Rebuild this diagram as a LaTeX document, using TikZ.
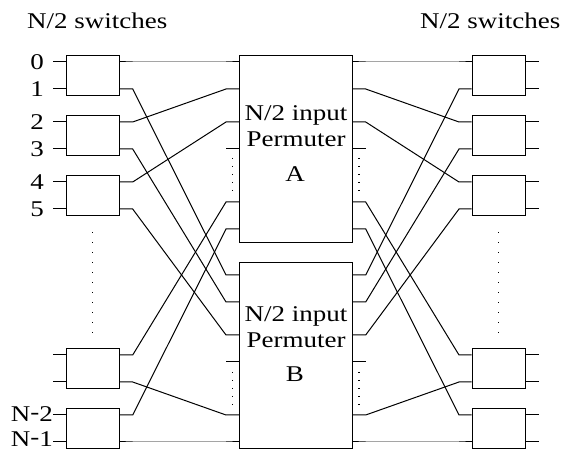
\documentclass[tikz,border=0pt]{standalone}
\usepackage{fontspec}
\usepackage{graphicx}
\setmainfont{Liberation Serif}
\newcommand{\stretchtxt}[1]{\scalebox{1.2}[1]{#1}}
\newcommand{\dashlbl}[1]{N\raisebox{0.12em}{-}#1}
\begin{document}
\begin{tikzpicture}[x=1pt,y=-1pt,
  sw/.style={draw, line width=1.1pt, rectangle, minimum width=53.3pt, minimum height=40pt, inner sep=0pt, anchor=north west},
  perm/.style={draw, line width=1.1pt, rectangle, minimum width=113pt, inner sep=0pt, anchor=north west},
  lbl/.style={font=\fontsize{22.5}{26}\selectfont, inner sep=0pt},
  wire/.style={line width=1pt},
  dotsL/.style={dash pattern=on 1.3pt off 8.7pt, line width=1.2pt},
  dotsP/.style={dash pattern=on 1.3pt off 6.7pt, line width=1.2pt}]
\useasboundingbox (0,0) rectangle (566,449);

% top labels
\node[lbl, anchor=base west] (tl) at (27,28.3) {\stretchtxt{N/2 switches}};
\node[lbl, anchor=base west] (tr) at (420,28.3) {\stretchtxt{N/2 switches}};

% switches
\foreach \k/\t in {1/55,2/115,3/175,4/348,5/408} {
  \node[sw] (L\k) at (66,\t) {};
  \node[sw] (R\k) at (471.7,\t) {};
}
% permuters
\node[perm, minimum height=186.7pt] (PA) at (239,55) {};
\node[perm, minimum height=186.3pt] (PB) at (239,261.7) {};

% permuter texts
\node[lbl, anchor=base] (ta1) at (296,121) {\stretchtxt{N/2 input}};
\node[lbl, anchor=base] (ta2) at (296,146.7) {\stretchtxt{Permuter}};
\node[lbl, anchor=base] (ta3) at (295,181.7) {\stretchtxt{A}};
\node[lbl, anchor=base] (tb1) at (296,321.7) {\stretchtxt{N/2 input}};
\node[lbl, anchor=base] (tb2) at (296,347.3) {\stretchtxt{Permuter}};
\node[lbl, anchor=base] (tb3) at (295,381.7) {\stretchtxt{B}};

% port coordinates
\foreach \i/\y in {0/62,1/89,2/122,3/149,4/182,5/209,6/355,7/382,8/415,9/442} {
  \coordinate (Li\i) at (66,\y);
  \coordinate (Lo\i) at (119.3,\y);
  \coordinate (Ri\i) at (471.7,\y);
  \coordinate (Ro\i) at (525.7,\y);
  \draw[wire] (Li\i) -- ++(-13,0);
  \draw[wire] (Ro\i) -- ++(13.3,0);
}
\foreach \i/\y in {0/62,1/89,2/122,3/149,4/202,5/229} {
  \coordinate (PAi\i) at (239,\y);
  \coordinate (PAo\i) at (352,\y);
}
\foreach \i/\y in {0/275,1/302,2/335,3/362,4/415,5/442} {
  \coordinate (PBi\i) at (239,\y);
  \coordinate (PBo\i) at (352,\y);
}

% port labels
\foreach \i/\y/\s in {0/62/0,1/89/1,2/122/2,3/149/3,4/182/4,5/209/5} {
  \node[lbl, anchor=east] (n\i) at (44,\y) {\stretchtxt{\s}};
}
\node[lbl, anchor=east] (n8) at (53,414.5) {\stretchtxt{\dashlbl{2}}};
\node[lbl, anchor=east] (n9) at (53,439.3) {\stretchtxt{\dashlbl{1}}};

% unconnected permuter stubs
\draw[wire] (PAi3) -- ++(-13,0);
\draw[wire] (PAo3) -- ++(13.7,0);
\draw[wire] (PBi3) -- ++(-13,0);
\draw[wire] (PBo3) -- ++(13.7,0);

% left wiring (shuffle)
\foreach \a/\b in {0/PAi0,1/PBi0,2/PAi1,3/PBi1,4/PAi2,5/PBi2,6/PAi4,7/PBi4,8/PAi5,9/PBi5} {
  \draw[wire] (Lo\a) -- ++(13.4,0) -- ([xshift=-13pt]\b) -- (\b);
}
% right wiring (unshuffle)
\foreach \a/\b in {PAo0/0,PBo0/1,PAo1/2,PBo1/3,PAo2/4,PBo2/5,PAo4/6,PBo4/7,PAo5/8,PBo5/9} {
  \draw[wire] (\a) -- ++(13.7,0) -- ([xshift=-12.7pt]Ri\b) -- (Ri\b);
}

% dots
\draw[dotsL] (92.7,232) -- (92.7,334);
\draw[dotsL] (498.3,232) -- (498.3,334);
\draw[dotsP] (232.3,158) -- (232.3,192);
\draw[dotsP] (359,158) -- (359,192);
\draw[dotsP] (232.3,372) -- (232.3,406);
\draw[dotsP] (359,372) -- (359,406);
\end{tikzpicture}
\end{document}
